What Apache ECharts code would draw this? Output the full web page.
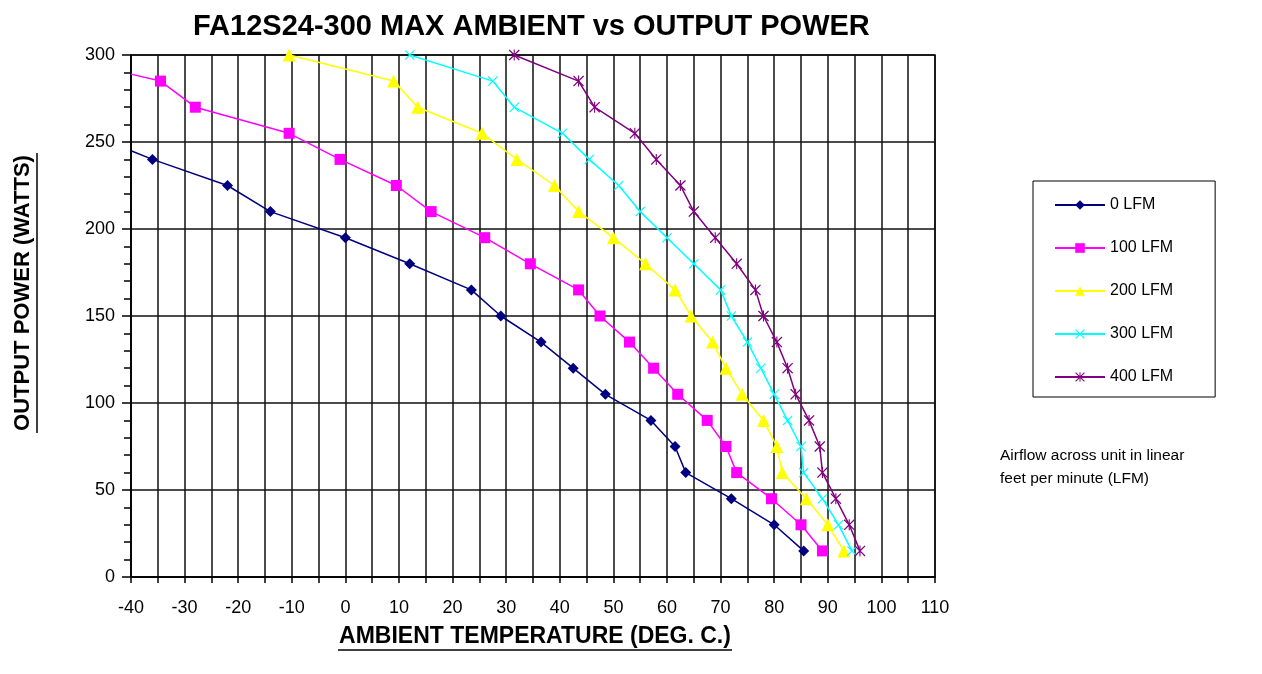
<!DOCTYPE html>
<html>
<head>
<meta charset="utf-8">
<script src="https://cdn.jsdelivr.net/npm/echarts@6/dist/echarts.min.js"></script>
<style>
  html, body { margin: 0; padding: 0; background: #fff; }
  #chart { width: 1262px; height: 674px; }
</style>
</head>
<body>
<div id="chart"></div>
<script>
// ---- Data ----
const seriesNames = ['0 LFM', '100 LFM', '200 LFM', '300 LFM', '400 LFM'];

const temp0   = [-40, -36, -22, -14, 0, 12, 23.5, 29, 36.5, 42.5, 48.5, 57, 61.5, 63.5, 72, 80, 85.5];
const power0  = [245, 240, 225, 210, 195, 180, 165, 150, 135, 120, 105, 90, 75, 60, 45, 30, 15];

const temp100  = [-40, -34.5, -28, -10.5, -1, 9.5, 16, 26, 34.5, 43.5, 47.5, 53, 57.5, 62, 67.5, 71, 73, 79.5, 85, 89];
const power100 = [289, 285, 270, 255, 240, 225, 210, 195, 180, 165, 150, 135, 120, 105, 90, 75, 60, 45, 30, 15];

const temp200  = [-10.5, 9, 13.5, 25.5, 32, 39, 43.5, 50, 56, 61.5, 64.5, 68.5, 71, 74, 78, 80.5, 81.5, 86, 90, 93];
const power200 = [300, 285, 270, 255, 240, 225, 210, 195, 180, 165, 150, 135, 120, 105, 90, 75, 60, 45, 30, 15];

const temp300  = [12, 27.5, 31.5, 40.5, 45.5, 51, 55, 60, 65, 70, 72, 75, 77.5, 80, 82.5, 85, 85.5, 89, 92, 94.5];
const power300 = [300, 285, 270, 255, 240, 225, 210, 195, 180, 165, 150, 135, 120, 105, 90, 75, 60, 45, 30, 15];

const temp400  = [31.5, 43.5, 46.5, 54, 58, 62.5, 65, 69, 73, 76.5, 78, 80.5, 82.5, 84, 86.5, 88.5, 89, 91.5, 94, 96];
const power400 = [300, 285, 270, 255, 240, 225, 210, 195, 180, 165, 150, 135, 120, 105, 90, 75, 60, 45, 30, 15];

const xTicks = { min: -40, max: 110, interval: 5 };
const yTicks = { min: 0, max: 300, interval: 50 };

// ---- Styling ----
const colors = ['#000080', '#FF00FF', '#FFFF00', '#00FFFF', '#800080'];
const FONT = '"Liberation Sans", Arial, sans-serif';
const xPath = 'path://M0,1.6L1.6,0L10,8.4L18.4,0L20,1.6L11.6,10L20,18.4L18.4,20L10,11.6L1.6,20L0,18.4L8.4,10Z';
const starPath = 'path://M0,1.6L1.6,0L10,8.4L18.4,0L20,1.6L11.6,10L20,18.4L18.4,20L10,11.6L1.6,20L0,18.4L8.4,10Z M9,0L11,0L11,8L9,8Z M9,12L11,12L11,20L9,20Z';

const symbols = ['diamond', 'rect', 'triangle', xPath, starPath];
const symbolSizes = [11, 11, 13, 10, 11];

function pairs(xs, ys, noFirstSymbol) {
  return xs.map((x, i) => {
    if (noFirstSymbol && i === 0) return { value: [x, ys[i]], symbol: 'none' };
    return [x, ys[i]];
  });
}

const dataSets = [
  pairs(temp0, power0, true),
  pairs(temp100, power100, true),
  pairs(temp200, power200, false),
  pairs(temp300, power300, false),
  pairs(temp400, power400, false)
];

const chart = echarts.init(document.getElementById('chart'), null, { renderer: 'canvas' });

const option = {
  backgroundColor: '#ffffff',
  animation: false,
  title: {
    text: 'FA12S24-300 MAX AMBIENT vs OUTPUT POWER',
    left: 188,
    top: 7,
    textStyle: { fontFamily: FONT, fontSize: 29, fontWeight: 'bold', color: '#000' }
  },
  grid: {
    left: 131, right: 327, top: 55, bottom: 97,
    show: true, borderColor: '#000', borderWidth: 1.5, backgroundColor: '#fff'
  },
  legend: {
    orient: 'vertical',
    left: 1033,
    top: 181,
    data: seriesNames,
    itemWidth: 50,
    itemHeight: 12,
    itemGap: 27,
    itemTextGap: 6,
    padding: [16, 42, 12, 21],
    borderColor: '#000',
    borderWidth: 1,
    textStyle: { fontFamily: FONT, fontSize: 16, color: '#000' }
  },
  xAxis: {
    type: 'value',
    min: xTicks.min, max: xTicks.max, interval: xTicks.interval,
    axisLine: { show: true, onZero: false, lineStyle: { color: '#000', width: 1.5 } },
    axisTick: { show: true, length: 6, lineStyle: { color: '#000', width: 1.5 } },
    splitLine: { show: true, lineStyle: { color: '#111', width: 1.5 } },
    axisLabel: {
      margin: 22,
      fontFamily: FONT, fontSize: 18, color: '#000',
      formatter: v => (v % 10 === 0 ? String(v) : '')
    }
  },
  yAxis: {
    type: 'value',
    min: yTicks.min, max: yTicks.max, interval: yTicks.interval,
    axisLine: { show: true, onZero: false, lineStyle: { color: '#000', width: 1.5 } },
    axisTick: { show: true, length: 9, lineStyle: { color: '#000', width: 1.5 } },
    minorTick: { show: true, splitNumber: 5, length: 7, lineStyle: { color: '#000', width: 1.5 } },
    splitLine: { show: true, lineStyle: { color: '#111', width: 1.5 } },
    axisLabel: { margin: 16, fontFamily: FONT, fontSize: 18, color: '#000' }
  },
  graphic: [
    {
      type: 'text',
      x: 23, y: 293,
      rotation: Math.PI / 2,
      style: {
        text: 'OUTPUT POWER (WATTS)',
        fontFamily: FONT, fontSize: 22, fontWeight: 'bold', fill: '#000',
        textAlign: 'center', textVerticalAlign: 'middle'
      }
    },
    { type: 'line', shape: { x1: 37, y1: 153, x2: 37, y2: 433 }, style: { stroke: '#000', lineWidth: 1.5 } },
    {
      type: 'text',
      x: 535, y: 637,
      style: {
        text: 'AMBIENT TEMPERATURE (DEG. C.)',
        fontFamily: FONT, fontSize: 23, fontWeight: 'bold', fill: '#000',
        textAlign: 'center', textVerticalAlign: 'middle'
      }
    },
    { type: 'line', shape: { x1: 338, y1: 650, x2: 732, y2: 650 }, style: { stroke: '#000', lineWidth: 1.5 } },
    {
      type: 'text',
      x: 1000, y: 467,
      style: {
        text: 'Airflow across unit in linear\nfeet per minute (LFM)',
        fontFamily: FONT, fontSize: 15.5, fill: '#000', lineHeight: 23,
        textAlign: 'left', textVerticalAlign: 'middle'
      }
    }
  ],
  series: seriesNames.map((name, i) => ({
    name: name,
    type: 'line',
    data: dataSets[i],
    symbol: symbols[i],
    symbolSize: symbolSizes[i],
    showAllSymbol: true,
    clip: false,
    itemStyle: { color: colors[i], borderWidth: 0 },
    lineStyle: { color: colors[i], width: 1.5 },
    emphasis: { disabled: true }
  }))
};

chart.setOption(option);
</script>
</body>
</html>
